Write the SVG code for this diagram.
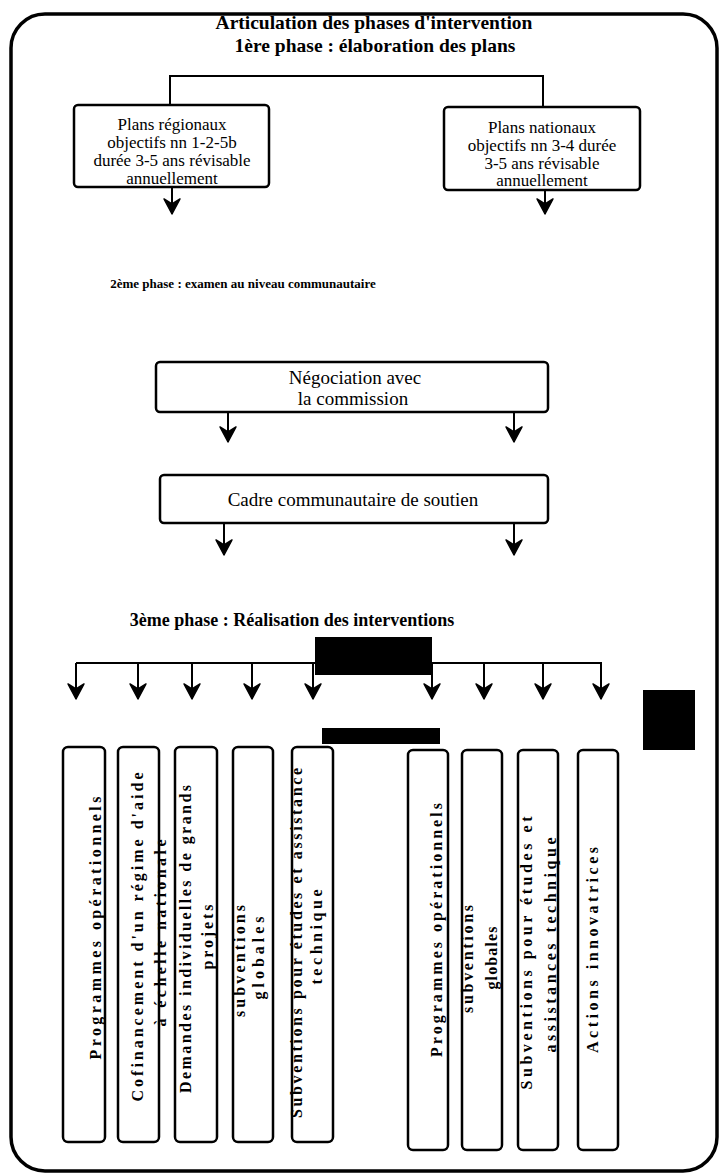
<svg xmlns="http://www.w3.org/2000/svg" width="721" height="1176" viewBox="0 0 721 1176">
<defs>
<style>
.frame{fill:none;stroke:#000;stroke-width:3.5}
.box{fill:#fff;stroke:#000;stroke-width:2.5}
.ln{fill:none;stroke:#000;stroke-width:2}
.t{font-family:"Liberation Serif","Times New Roman",serif;fill:#000}
.b{font-weight:bold}
.v{font-family:"Liberation Serif","Times New Roman",serif;font-weight:bold;font-size:16px;fill:#000}
.blk{fill:#000}
</style>
<marker id="ah" viewBox="-10 -10 20 20" markerWidth="20" markerHeight="20" refX="7" refY="0" orient="auto" markerUnits="userSpaceOnUse">
<path d="M7,0 L-8,-8 L-3,0 L-8,8 Z" fill="#000" stroke="#000" stroke-width="1.5" stroke-linejoin="round"/>
</marker>
</defs>
<rect class="frame" x="11" y="14" width="706" height="1157" rx="34" ry="34"/>
<text class="t b" x="374" y="29" font-size="19.5" text-anchor="middle">Articulation des phases d'intervention</text>
<text class="t b" x="375" y="52" font-size="19.5" text-anchor="middle">1ère  phase : élaboration des plans</text>
<g id="connectors">
<path class="ln" d="M170,105 V76 H543 V107"/>
<line class="ln" x1="172" y1="187" x2="172" y2="214" marker-end="url(#ah)"/>
<line class="ln" x1="545" y1="190" x2="545" y2="214" marker-end="url(#ah)"/>
<line class="ln" x1="228" y1="412" x2="228" y2="442" marker-end="url(#ah)"/>
<line class="ln" x1="514" y1="412" x2="514" y2="442" marker-end="url(#ah)"/>
<line class="ln" x1="224" y1="523" x2="224" y2="555" marker-end="url(#ah)"/>
<line class="ln" x1="514" y1="523" x2="514" y2="555" marker-end="url(#ah)"/>
<path class="ln" d="M76,663 H602"/>
<line class="ln" x1="76" y1="663" x2="76" y2="699" marker-end="url(#ah)"/>
<line class="ln" x1="138" y1="663" x2="138" y2="699" marker-end="url(#ah)"/>
<line class="ln" x1="192" y1="663" x2="192" y2="699" marker-end="url(#ah)"/>
<line class="ln" x1="252" y1="663" x2="252" y2="699" marker-end="url(#ah)"/>
<line class="ln" x1="313" y1="663" x2="313" y2="699" marker-end="url(#ah)"/>
<line class="ln" x1="432" y1="663" x2="432" y2="699" marker-end="url(#ah)"/>
<line class="ln" x1="484" y1="663" x2="484" y2="699" marker-end="url(#ah)"/>
<line class="ln" x1="543" y1="663" x2="543" y2="699" marker-end="url(#ah)"/>
<line class="ln" x1="601" y1="663" x2="601" y2="699" marker-end="url(#ah)"/>
</g>
<g id="plans-regionaux">
<rect class="box" x="74" y="105" width="195" height="82" rx="4"/>
<text class="t" font-size="17" text-anchor="middle"><tspan x="172" y="130">Plans régionaux</tspan><tspan x="172" y="148">objectifs nn 1-2-5b</tspan><tspan x="172" y="166">durée 3-5 ans révisable</tspan><tspan x="172" y="184">annuellement</tspan></text>
</g>
<g id="plans-nationaux">
<rect class="box" x="444" y="107" width="196" height="83" rx="4"/>
<text class="t" font-size="17" text-anchor="middle"><tspan x="542" y="133">Plans nationaux</tspan><tspan x="542" y="151">objectifs nn 3-4 durée</tspan><tspan x="542" y="169">3-5 ans révisable</tspan><tspan x="542" y="186">annuellement</tspan></text>
</g>
<text class="t b" x="243" y="288" font-size="13" text-anchor="middle">2ème phase : examen au niveau communautaire</text>
<g id="negociation">
<rect class="box" x="156" y="362" width="392" height="50" rx="4"/>
<text class="t" font-size="19" text-anchor="middle"><tspan x="355" y="384">Négociation avec</tspan><tspan x="353" y="405">la commission</tspan></text>
</g>
<g id="cadre">
<rect class="box" x="160" y="475" width="388" height="48" rx="4"/>
<text class="t" font-size="19" text-anchor="middle" x="353" y="506">Cadre communautaire de soutien</text>
</g>
<text class="t b" x="292" y="626" font-size="18" text-anchor="middle">3ème phase : Réalisation des interventions</text>
<rect class="blk" x="315" y="637" width="117" height="38"/>
<rect class="blk" x="643" y="690" width="52" height="60"/>
<rect class="blk" x="322" y="728" width="118" height="16"/>
<g id="b1"><rect class="box" x="63" y="747" width="42" height="395" rx="5"/>
<text class="v" text-anchor="middle" transform="translate(101,928) rotate(-90)" textLength="263" lengthAdjust="spacing">Programmes opérationnels</text></g>
<g id="b2"><rect class="box" x="118" y="747" width="41" height="395" rx="5"/>
<text class="v" text-anchor="middle" transform="translate(143,937) rotate(-90)" textLength="329" lengthAdjust="spacing">Cofinancement d'un régime d'aide</text>
<text class="v" text-anchor="middle" transform="translate(166,933) rotate(-90)" textLength="187" lengthAdjust="spacing">à échelle nationale</text></g>
<g id="b3"><rect class="box" x="175" y="747" width="42" height="395" rx="5"/>
<text class="v" text-anchor="middle" transform="translate(191,939) rotate(-90)" textLength="308" lengthAdjust="spacing">Demandes individuelles de grands</text>
<text class="v" text-anchor="middle" transform="translate(213,937) rotate(-90)" textLength="65" lengthAdjust="spacing">projets</text></g>
<g id="b4"><rect class="box" x="233" y="747" width="40" height="395" rx="5"/>
<text class="v" text-anchor="middle" transform="translate(245,961) rotate(-90)" textLength="112" lengthAdjust="spacing">subventions</text>
<text class="v" text-anchor="middle" transform="translate(264,958) rotate(-90)" textLength="83" lengthAdjust="spacing">globales</text></g>
<g id="b5"><rect class="box" x="292" y="747" width="41" height="395" rx="5"/>
<text class="v" text-anchor="middle" transform="translate(302,943) rotate(-90)" textLength="350" lengthAdjust="spacing">Subventions pour études et assistance</text>
<text class="v" text-anchor="middle" transform="translate(322,937) rotate(-90)" textLength="95" lengthAdjust="spacing">technique</text></g>
<g id="b6"><rect class="box" x="408" y="750" width="40" height="400" rx="5"/>
<text class="v" text-anchor="middle" transform="translate(442,930) rotate(-90)" textLength="254" lengthAdjust="spacing">Programmes opérationnels</text></g>
<g id="b7"><rect class="box" x="462" y="750" width="40" height="400" rx="5"/>
<text class="v" text-anchor="middle" transform="translate(473,959) rotate(-90)" textLength="108" lengthAdjust="spacing">subventions</text>
<text class="v" text-anchor="middle" transform="translate(497,958) rotate(-90)" textLength="63" lengthAdjust="spacing">globales</text></g>
<g id="b8"><rect class="box" x="518" y="750" width="40" height="400" rx="5"/>
<text class="v" text-anchor="middle" transform="translate(532,953) rotate(-90)" textLength="273" lengthAdjust="spacing">Subventions pour études et</text>
<text class="v" text-anchor="middle" transform="translate(556,945) rotate(-90)" textLength="215" lengthAdjust="spacing">assistances technique</text></g>
<g id="b9"><rect class="box" x="578" y="750" width="40" height="400" rx="5"/>
<text class="v" text-anchor="middle" transform="translate(598,950) rotate(-90)" textLength="206" lengthAdjust="spacing">Actions innovatrices</text></g>
</svg>
